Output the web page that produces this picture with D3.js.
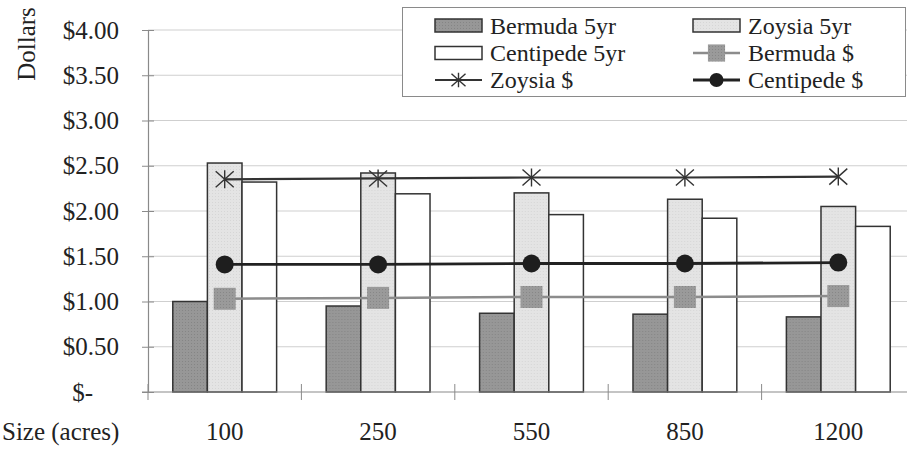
<!DOCTYPE html>
<html>
<head>
<meta charset="utf-8">
<script src="https://cdn.jsdelivr.net/npm/d3@7/dist/d3.min.js"></script>
<style>
  html, body { margin: 0; padding: 0; background: #fff; }
  svg { display: block; font-family: "Liberation Serif", "Times New Roman", serif; }
</style>
</head>
<body>
<svg id="chart" width="907" height="450"></svg>
<script>
// ---- data ----
const categories = ["100", "250", "550", "850", "1200"];
const barSeries = ["Bermuda 5yr", "Zoysia 5yr", "Centipede 5yr"];
const bermuda5yr   = [1.00, 0.95, 0.87, 0.86, 0.83];
const zoysia5yr    = [2.53, 2.42, 2.20, 2.13, 2.05];
const centipede5yr = [2.32, 2.19, 1.96, 1.92, 1.83];
const lineSeries = ["Bermuda $", "Zoysia $", "Centipede $"];
const bermudaDollar   = [1.03, 1.04, 1.05, 1.05, 1.06];
const zoysiaDollar    = [2.35, 2.36, 2.37, 2.37, 2.38];
const centipedeDollar = [1.41, 1.41, 1.42, 1.42, 1.43];
const yTicks = [0, 0.5, 1, 1.5, 2, 2.5, 3, 3.5, 4];
const yTickLabels = ["$-", "$0.50", "$1.00", "$1.50", "$2.00", "$2.50", "$3.00", "$3.50", "$4.00"];
const xTitle = "Size (acres)";
const yTitle = "Dollars";

(function () {
// ---- layout ----
const svg = d3.select("#chart");
const W = 907, H = 450;
const pLeft = 148, pRight = 915, pTop = 30, pBottom = 392;

const x0 = d3.scaleBand().domain(categories).range([pLeft, pRight]).padding(0);
const x1 = d3.scaleBand().domain(barSeries).range([0, x0.bandwidth()]).paddingInner(0).paddingOuter(0.716);
const y = d3.scaleLinear().domain([0, 4]).range([pBottom, pTop]);

const barValues = { "Bermuda 5yr": bermuda5yr, "Zoysia 5yr": zoysia5yr, "Centipede 5yr": centipede5yr };

// patterns for scanned texture
const defs = svg.append("defs");
function texture(id, base, dot) {
  const p = defs.append("pattern").attr("id", id).attr("width", 3).attr("height", 3).attr("patternUnits", "userSpaceOnUse");
  p.append("rect").attr("width", 3).attr("height", 3).attr("fill", base);
  p.append("rect").attr("x", 1).attr("y", 1).attr("width", 1).attr("height", 1).attr("fill", dot);
}
texture("texB", "#979797", "#858585");
texture("texZ", "#e4e4e4", "#d6d6d6");
texture("texM", "#9a9a9a", "#878787");
const barPattern = { "Bermuda 5yr": "url(#texB)", "Zoysia 5yr": "url(#texZ)", "Centipede 5yr": "#ffffff" };

// gridlines
svg.append("g").selectAll("line").data(yTicks.filter(d => d > 0)).join("line")
  .attr("x1", pLeft).attr("x2", W)
  .attr("y1", d => y(d)).attr("y2", d => y(d))
  .attr("stroke", "#cfcfcf").attr("stroke-width", 1);

// y axis
const yAxis = d3.axisLeft(y).tickValues(yTicks).tickSize(0).tickFormat((d, i) => yTickLabels[i]);
const gy = svg.append("g").attr("transform", `translate(${pLeft},0)`).call(yAxis);
gy.select(".domain").attr("stroke", "#8a8a8a").attr("stroke-width", 1.2);
gy.selectAll(".tick text").attr("x", -29).attr("font-size", 25)
  .attr("font-family", "Liberation Serif").attr("fill", "#222");
gy.selectAll(".tick").filter(d => d === 0).select("text").attr("x", -55);
gy.selectAll(".tick").append("line").attr("x1", -6).attr("x2", 6).attr("stroke", "#8a8a8a");

// bars
const groups = svg.append("g").selectAll("g").data(categories).join("g")
  .attr("transform", d => `translate(${x0(d)},0)`);
groups.selectAll("rect").data((c, i) => barSeries.map(s => ({ s, v: barValues[s][i] }))).join("rect")
  .attr("x", d => x1(d.s))
  .attr("width", x1.bandwidth())
  .attr("y", d => y(d.v))
  .attr("height", d => y(0) - y(d.v))
  .attr("fill", d => barPattern[d.s])
  .attr("stroke", "#333").attr("stroke-width", 1.5);

// x axis
const xAxisG = svg.append("g").attr("transform", `translate(0,${pBottom})`);
xAxisG.append("line").attr("x1", pLeft - 6).attr("x2", W).attr("stroke", "#8a8a8a").attr("stroke-width", 1.2);
const bounds = categories.map(c => x0(c)).concat([pRight]);
xAxisG.selectAll("line.tk").data(bounds).join("line").attr("class", "tk")
  .attr("x1", d => d).attr("x2", d => d).attr("y1", -8).attr("y2", 8)
  .attr("stroke", "#8a8a8a");
xAxisG.selectAll("text.cat").data(categories).join("text").attr("class", "cat")
  .attr("x", d => x0(d) + x0.bandwidth() / 2).attr("y", 48)
  .attr("text-anchor", "middle").attr("font-size", 25).attr("fill", "#222").text(d => d);
svg.append("text").attr("x", 2).attr("y", 440).attr("font-size", 25).attr("fill", "#222").text(xTitle);
svg.append("text").attr("transform", "translate(35,44) rotate(-90)").attr("text-anchor", "middle")
  .attr("font-size", 25).attr("fill", "#222").text(yTitle);

// lines
const cx = c => x0(c) + x0.bandwidth() / 2;
const lineValues = { "Bermuda $": bermudaDollar, "Zoysia $": zoysiaDollar, "Centipede $": centipedeDollar };
const lineStyle = {
  "Bermuda $": { stroke: "#8c8c8c", w: 2.5 },
  "Zoysia $": { stroke: "#333", w: 2.2 },
  "Centipede $": { stroke: "#222", w: 2.8 }
};
const lineGen = d3.line().x((d, i) => cx(categories[i])).y(d => y(d));
lineSeries.forEach(s => {
  svg.append("path").datum(lineValues[s]).attr("d", lineGen)
    .attr("fill", "none").attr("stroke", lineStyle[s].stroke).attr("stroke-width", lineStyle[s].w);
});

function drawMarker(g, s, px, py, scale) {
  if (s === "Bermuda $") {
    const h = 11 * scale;
    g.append("rect").attr("x", px - h).attr("y", py - h).attr("width", 2 * h).attr("height", 2 * h).attr("fill", "url(#texM)");
  } else if (s === "Centipede $") {
    g.append("circle").attr("cx", px).attr("cy", py).attr("r", 9 * scale).attr("fill", "#1e1e1e");
  } else {
    const a = 9 * scale, b = 8 * scale;
    g.append("path").attr("d", `M${px - a},${py - b}L${px + a},${py + b}M${px - a},${py + b}L${px + a},${py - b}M${px},${py - b - 1}L${px},${py + b + 1}`)
      .attr("stroke", "#333").attr("stroke-width", 1.4).attr("fill", "none");
  }
}
const mg = svg.append("g");
lineSeries.forEach(s => {
  lineValues[s].forEach((v, i) => drawMarker(mg, s, cx(categories[i]), y(v), 1));
});

// legend
const lg = svg.append("g");
lg.append("rect").attr("x", 402.5).attr("y", 7.5).attr("width", 503).attr("height", 89)
  .attr("fill", "#fff").attr("stroke", "#8a8a8a").attr("stroke-width", 1);
const legendItems = [
  { name: "Bermuda 5yr", type: "bar" }, { name: "Zoysia 5yr", type: "bar" },
  { name: "Centipede 5yr", type: "bar" }, { name: "Bermuda $", type: "line" },
  { name: "Zoysia $", type: "line" }, { name: "Centipede $", type: "line" }
];
const colX = [435, 693], rowY = [25.5, 53, 80];
legendItems.forEach((it, i) => {
  const sx = colX[i % 2], sy = rowY[Math.floor(i / 2)];
  if (it.type === "bar") {
    lg.append("rect").attr("x", sx).attr("y", sy - 6.5).attr("width", 47).attr("height", 13)
      .attr("fill", barPattern[it.name]).attr("stroke", "#333").attr("stroke-width", 1.5);
  } else {
    lg.append("line").attr("x1", sx).attr("x2", sx + 47).attr("y1", sy).attr("y2", sy)
      .attr("stroke", lineStyle[it.name].stroke).attr("stroke-width", lineStyle[it.name].w);
    drawMarker(lg, it.name, sx + 23.5, sy, 0.78);
  }
  lg.append("text").attr("x", sx + 55).attr("y", sy).attr("dy", "0.35em")
    .attr("font-size", 24).attr("fill", "#222").text(it.name);
});
})();
</script>
</body>
</html>
